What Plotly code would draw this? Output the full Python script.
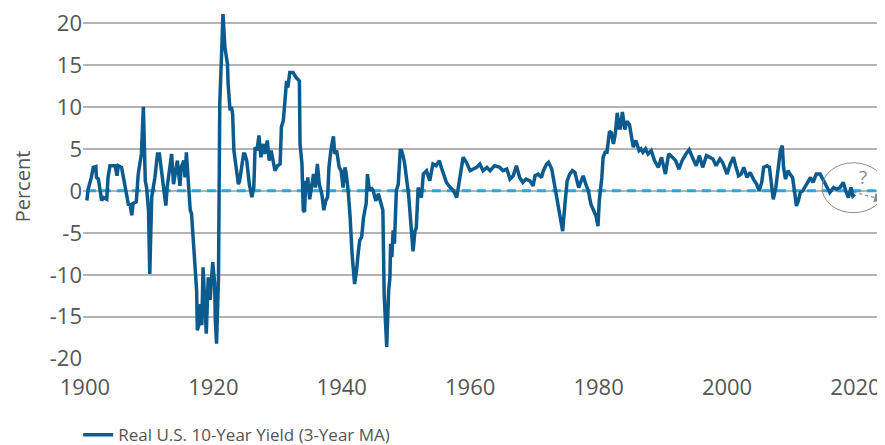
import plotly.graph_objects as go

# Real U.S. 10-Year Yield (3-Year MA)
years = [
    1900.3, 1900.5, 1901.0, 1901.3, 1901.7, 1901.8, 1902.1, 1902.3, 1902.6, 1902.9,
    1903.4, 1903.6, 1903.9, 1904.7, 1905.0, 1905.2, 1905.7, 1906.0, 1906.5, 1906.8,
    1907.0, 1907.3, 1907.5, 1908.0, 1908.3, 1908.6, 1908.8, 1909.1, 1909.4, 1909.6,
    1909.9, 1910.1, 1910.4, 1910.9, 1911.3, 1911.6, 1911.9, 1912.2, 1912.6, 1912.8,
    1913.1, 1913.5, 1913.8, 1914.0, 1914.4, 1914.8, 1915.0, 1915.4, 1915.6, 1915.8,
    1916.1, 1916.4, 1916.6, 1917.1, 1917.4, 1917.5, 1917.8, 1918.0, 1918.2, 1918.4,
    1918.6, 1918.9, 1919.2, 1919.5, 1919.9, 1920.2, 1920.3, 1920.5, 1920.8, 1921.0,
    1921.3, 1921.5, 1921.8, 1922.2, 1922.3, 1922.6, 1922.8, 1923.0, 1923.2, 1923.6,
    1923.9, 1924.1, 1924.4, 1924.7, 1924.9, 1925.2, 1925.6, 1926.0, 1926.3, 1926.5,
    1926.8, 1927.1, 1927.4, 1927.8, 1928.0, 1928.4, 1928.7, 1929.0, 1929.3, 1929.6,
    1930.0, 1930.4, 1930.6, 1930.9, 1931.2, 1931.4, 1931.6, 1931.9, 1932.4, 1932.9,
    1933.4, 1933.5, 1933.8, 1934.0, 1934.2, 1934.4, 1934.6, 1934.7, 1935.0, 1935.3,
    1935.6, 1935.9, 1936.2, 1936.5, 1936.9, 1937.2, 1937.5, 1937.8, 1938.0, 1938.3,
    1938.7, 1938.9, 1939.2, 1939.6, 1939.9, 1940.2, 1940.5, 1940.7, 1941.0, 1941.3,
    1941.6, 1942.0, 1942.3, 1942.6, 1942.8, 1943.1, 1943.4, 1943.8, 1944.0, 1944.3,
    1944.6, 1944.9, 1945.3, 1945.7, 1946.0, 1946.4, 1946.6, 1946.8, 1947.0, 1947.3,
    1947.5, 1947.6, 1947.8, 1948.0, 1948.2, 1948.5, 1948.8, 1949.1, 1949.3, 1949.6,
    1949.8, 1950.4, 1950.9, 1951.1, 1951.4, 1951.6, 1951.9, 1952.1, 1952.4, 1952.7,
    1953.2, 1953.7, 1954.2, 1954.7, 1955.2, 1955.5, 1955.8, 1956.3, 1956.9, 1957.4,
    1957.9, 1958.4, 1958.9, 1959.4, 1960.0, 1960.5, 1961.0, 1961.5, 1962.0, 1962.6,
    1963.1, 1963.8, 1964.6, 1965.1, 1965.7, 1966.2, 1966.7, 1967.2, 1967.7, 1968.2,
    1968.7, 1969.3, 1969.8, 1970.1, 1970.6, 1971.1, 1971.4, 1971.9, 1972.2, 1972.7,
    1973.2, 1973.5, 1974.0, 1974.4, 1974.8, 1975.1, 1975.5, 1975.9, 1976.3, 1976.9,
    1977.2, 1977.6, 1978.0, 1978.4, 1978.8, 1979.2, 1979.6, 1979.9, 1980.1, 1980.5,
    1980.7, 1981.0, 1981.3, 1981.7, 1982.0, 1982.3, 1982.6, 1982.9, 1983.2, 1983.4,
    1983.7, 1984.1, 1984.4, 1984.8, 1985.2, 1985.4, 1985.8, 1986.3, 1986.6, 1986.9,
    1987.3, 1987.7, 1988.2, 1988.7, 1989.3, 1989.8, 1990.4, 1990.9, 1991.5, 1992.0,
    1992.5, 1993.0, 1993.6, 1994.1, 1994.6, 1995.2, 1995.7, 1996.2, 1996.8, 1997.3,
    1997.8, 1998.3, 1998.9, 1999.3, 1999.7, 2000.0, 2000.5, 2001.0, 2001.4, 2001.8,
    2002.2, 2002.6, 2003.1, 2003.6, 2004.1, 2004.6, 2005.0, 2005.4, 2005.7, 2006.2,
    2006.6, 2007.0, 2007.2, 2007.6, 2008.0, 2008.3, 2008.6, 2008.8, 2009.1, 2009.5,
    2009.8, 2010.2, 2010.5, 2010.8, 2011.1, 2011.4, 2011.8, 2012.3, 2012.7, 2013.0,
    2013.4, 2013.9, 2014.5, 2014.9, 2015.3, 2015.6, 2016.0, 2016.6, 2017.1, 2017.6,
    2018.1, 2018.5, 2018.9, 2019.3, 2019.6, 2019.9,
]
real_yield = [
    -1.15, 0.2, 1.6, 2.8, 2.9, 1.6, 1.4, 0.2, -1.15, -0.8,
    -1.0, 1.6, 3.0, 3.0, 1.8, 3.0, 2.8, 1.6, -0.75, -1.75,
    -1.5, -2.9, -1.5, -1.3, 2.0, 3.2, 4.4, 10.0, 1.2, 0.4,
    -2.3, -9.9, -0.75, 1.6, 4.4, 4.4, 2.4, 0.4, -1.75, 0.4,
    2.4, 4.4, 0.8, 2.0, 3.6, 0.6, 2.8, 3.6, 1.6, 4.6,
    1.4, -2.3, -2.7, -9.1, -11.9, -16.6, -15.8, -13.5, -16.0, -9.1,
    -12.6, -17.0, -10.3, -13.0, -8.5, -11.0, -15.4, -18.2, -10.3, 10.4,
    16.7, 21.1, 17.1, 15.1, 12.7, 9.6, 10.0, 9.2, 4.8, 2.4,
    0.8, 1.2, 3.2, 4.4, 4.4, 3.6, 0.8, -0.75, 0.4, 5.2,
    4.8, 6.6, 4.0, 5.6, 4.4, 6.0, 3.6, 4.8, 3.6, 2.4,
    3.0, 3.2, 7.6, 8.4, 11.2, 13.1, 12.3, 14.1, 14.1, 13.5,
    13.1, 5.6, 3.2, -2.3, -2.5, 1.2, 0.0, 1.6, -1.0, 0.8,
    2.0, 0.4, 3.2, 0.8, -0.4, -2.3, -1.2, -0.75, 2.8, 4.8,
    6.5, 4.4, 4.8, 2.8, 2.4, 0.4, 2.8, 2.0, 0.0, -3.1,
    -7.5, -11.1, -9.5, -7.1, -5.9, -5.5, -3.1, -1.5, 2.0, 0.0,
    0.4, 0.0, -1.2, -0.35, -1.2, -2.3, -12.3, -16.6, -18.6, -11.9,
    -10.3, -6.3, -7.9, -4.7, -6.3, 0.0, 0.8, 4.8, 4.8, 4.0,
    3.2, -0.4, -6.4, -7.2, -4.8, -4.4, 0.4, 0.0, -0.8, 2.0,
    2.4, 1.2, 3.2, 3.0, 3.6, 2.8, 2.0, 1.0, 0.4, 0.0,
    -0.8, 1.6, 4.0, 3.4, 2.4, 2.6, 2.8, 3.2, 2.4, 2.8,
    2.4, 3.0, 2.8, 2.4, 2.6, 1.4, 1.8, 3.0, 1.6, 1.0,
    1.4, 1.2, 0.6, 1.8, 2.0, 1.6, 2.4, 3.2, 3.4, 2.6,
    0.4, -1.2, -2.8, -4.8, -1.2, 1.2, 2.0, 2.4, 2.2, 0.4,
    1.0, 1.8, 0.8, 0.0, -1.6, -2.4, -3.0, -4.2, -1.2, 1.6,
    4.0, 4.6, 4.6, 7.1, 6.9, 5.6, 6.8, 9.3, 7.5, 7.5,
    9.4, 7.3, 8.3, 7.9, 6.3, 5.2, 6.0, 4.8, 5.0, 4.6,
    5.0, 4.4, 4.8, 3.6, 2.8, 4.0, 2.0, 4.4, 4.0, 3.6,
    2.6, 3.6, 4.4, 4.9, 4.0, 3.0, 4.2, 2.8, 4.2, 4.0,
    3.8, 3.0, 3.8, 3.4, 2.4, 2.0, 3.2, 4.0, 2.8, 1.8,
    2.0, 2.8, 1.6, 2.2, 1.4, 0.8, 0.0, 1.0, 2.8, 3.0,
    2.8, 0.4, -1.0, 0.4, 3.2, 4.8, 5.4, 2.8, 1.4, 2.4,
    2.0, 1.6, 0.0, -1.8, -1.2, -0.2, 0.0, 0.6, 1.2, 1.6,
    1.0, 2.0, 2.0, 1.4, 0.8, 0.4, -0.2, 0.4, 0.2, 0.4,
    1.0, 0.0, -0.8, 0.4, -0.6, -0.4,
]

x_ticks = [1900, 1920, 1940, 1960, 1980, 2000, 2020]
y_ticks = [-20, -15, -10, -5, 0, 5, 10, 15, 20]
x_range = [1899.7, 2024.6]
y_range = [-20.03, 21.07]
series_name = "Real U.S. 10-Year Yield (3-Year MA)"

FONT = "Open Sans"
TXT = "#555555"
DARK = "#0b5b8e"
LIGHT = "#2ba3dc"
GREY = "#8c8c8c"

fig = go.Figure()
fig.add_trace(go.Scatter(
    x=[years[0], x_range[1]], y=[0, 0], mode="lines",
    line=dict(color=LIGHT, width=3, dash="9px,6px"),
    showlegend=False, hoverinfo="skip",
))
fig.add_trace(go.Scatter(
    x=years, y=real_yield, mode="lines", name=series_name,
    line=dict(color=DARK, width=3.5), cliponaxis=False,
))

# ellipse with question mark and dashed arrow
fig.add_shape(type="circle", xref="x", yref="y",
              x0=2014.8, x1=2024.6, y0=-2.6, y1=3.35,
              line=dict(color=GREY, width=1))
fig.add_annotation(x=2021.2, y=1.6, xref="x", yref="y", text="?",
                   showarrow=False, font=dict(family=FONT, size=19, color=GREY))
fig.add_shape(type="line", xref="x", yref="y",
              x0=2019.7, y0=-0.15, x1=2023.2, y1=-0.85,
              line=dict(color=GREY, width=1.3, dash="3px,3px"))
fig.add_annotation(x=2024.4, y=-1.1, ax=2023.0, ay=-0.82, xref="x", yref="y",
                   axref="x", ayref="y", text="", showarrow=True,
                   arrowhead=2, arrowsize=1.6, arrowwidth=1.2, arrowcolor=GREY)

# the page body keeps an 8px margin, so the figure is drawn 8px smaller
fig.update_layout(
    width=877, height=437,
    margin=dict(l=75, r=0, t=6, b=86, autoexpand=False),
    paper_bgcolor="white", plot_bgcolor="white",
    font=dict(family=FONT, color=TXT),
    showlegend=True,
    legend=dict(orientation="h", x=-0.006, xanchor="left", y=-0.221, yanchor="middle",
                font=dict(family=FONT, size=17, color=TXT), itemwidth=30),
    xaxis=dict(range=x_range, tickvals=x_ticks, ticktext=[str(v) for v in x_ticks],
               showgrid=False, zeroline=False, showline=False, automargin=False,
               ticks="outside", ticklen=9, tickcolor="rgba(0,0,0,0)",
               ticklabeloverflow="allow",
               tickfont=dict(family=FONT, size=22, color=TXT)),
    yaxis=dict(range=y_range, tickvals=y_ticks, ticktext=[str(v) for v in y_ticks],
               showgrid=True, gridcolor="#b4b4b4", gridwidth=1.5,
               zeroline=False, showline=False, automargin=False,
               ticks="", ticklen=0, ticklabeloverflow="allow",
               tickfont=dict(family=FONT, size=22, color=TXT),
               title=dict(text="Percent", font=dict(family=FONT, size=20, color=TXT),
                          standoff=13)),
)

fig.write_html("out.html")
